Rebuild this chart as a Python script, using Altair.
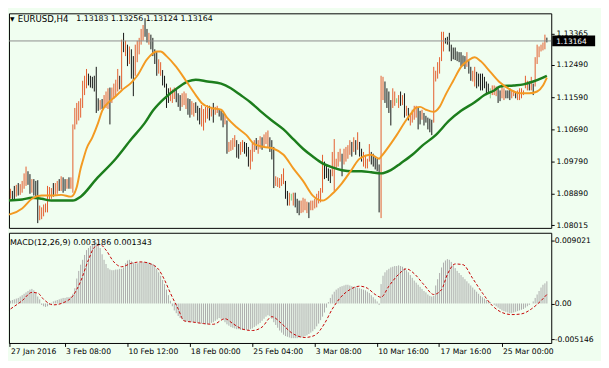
import altair as alt
import pandas as pd

FONT = "DejaVu Sans"
BG = "#F0FEF0"
UP, DOWN, DOJI = "#E35B2B", "#111111", "#7CD07C"

# ---------------- EURUSD H4 bars (index 0 = 27 Jan 2016 00:00) ----------------
bar_high = [
    1.0870, 1.0881, 1.0889, 1.0897, 1.0903, 1.0897, 1.0911, 1.0914, 1.0919, 1.0916,
    1.0925, 1.0946, 1.0965, 1.0952, 1.0944, 1.0930, 1.0930, 1.0925, 1.0927, 1.0856,
    1.0851, 1.0859, 1.0862, 1.0911, 1.0908, 1.0905, 1.0919, 1.0919, 1.0925, 1.0930,
    1.0938, 1.0935, 1.0930, 1.0930, 1.0935, 1.0935, 1.1083, 1.1129, 1.1143, 1.1148,
    1.1156, 1.1205, 1.1219, 1.1238, 1.1225, 1.1219, 1.1216, 1.1219, 1.1244, 1.1156,
    1.1151, 1.1154, 1.1165, 1.1175, 1.1184, 1.1186, 1.1186, 1.1197, 1.1208, 1.1238,
    1.1219, 1.1320, 1.1339, 1.1317, 1.1306, 1.1301, 1.1293, 1.1274, 1.1306, 1.1317,
    1.1325, 1.1350, 1.1361, 1.1380, 1.1350, 1.1339, 1.1334, 1.1325, 1.1293, 1.1285,
    1.1265, 1.1257, 1.1235, 1.1219, 1.1197, 1.1184, 1.1186, 1.1181, 1.1186, 1.1181,
    1.1170, 1.1165, 1.1170, 1.1175, 1.1170, 1.1156, 1.1154, 1.1148, 1.1143, 1.1145,
    1.1135, 1.1129, 1.1137, 1.1126, 1.1132, 1.1137, 1.1135, 1.1132, 1.1143, 1.1132,
    1.1135, 1.1126, 1.1121, 1.1115, 1.1110, 1.1094, 1.1034, 1.1039, 1.1045, 1.1053,
    1.1039, 1.1028, 1.1034, 1.1039, 1.1034, 1.1031, 1.1020, 1.1012, 1.1034, 1.1039,
    1.1045, 1.1039, 1.1050, 1.1047, 1.1055, 1.1061, 1.1066, 1.1047, 1.1039, 1.1020,
    1.0938, 1.0935, 1.0933, 1.0944, 1.0960, 1.0925, 1.0897, 1.0892, 1.0889, 1.0892,
    1.0892, 1.0875, 1.0870, 1.0870, 1.0878, 1.0875, 1.0867, 1.0865, 1.0870, 1.0870,
    1.0875, 1.0889, 1.0897, 1.0905, 1.0998, 1.0979, 1.0971, 1.0960, 1.0957, 1.1006,
    1.1042, 1.0987, 1.1006, 1.1015, 1.1001, 1.1015, 1.1020, 1.1025, 1.1039, 1.1034,
    1.1047, 1.1039, 1.1061, 1.1034, 1.1015, 1.1006, 1.0998, 1.0987, 1.1028, 1.1006,
    1.1001, 1.0993, 1.0987, 1.0971, 1.1219, 1.1216, 1.1203, 1.1184, 1.1175, 1.1151,
    1.1184, 1.1175, 1.1156, 1.1165, 1.1175, 1.1165, 1.1170, 1.1135, 1.1129, 1.1115,
    1.1124, 1.1135, 1.1135, 1.1129, 1.1121, 1.1124, 1.1115, 1.1107, 1.1102, 1.1099,
    1.1096, 1.1244, 1.1233, 1.1257, 1.1271, 1.1342, 1.1342, 1.1325, 1.1328, 1.1339,
    1.1306, 1.1298, 1.1298, 1.1287, 1.1285, 1.1285, 1.1276, 1.1274, 1.1285, 1.1260,
    1.1244, 1.1233, 1.1244, 1.1230, 1.1225, 1.1225, 1.1225, 1.1216, 1.1203, 1.1197,
    1.1184, 1.1192, 1.1192, 1.1189, 1.1184, 1.1178, 1.1189, 1.1184, 1.1178, 1.1178,
    1.1184, 1.1178, 1.1178, 1.1175, 1.1178, 1.1184, 1.1184, 1.1178, 1.1219, 1.1205,
    1.1203, 1.1216, 1.1197, 1.1271, 1.1306, 1.1301, 1.1306, 1.1312, 1.1334, 1.13256,
]
bar_low = [
    1.0837, 1.0848, 1.0862, 1.0870, 1.0875, 1.0870, 1.0873, 1.0881, 1.0884, 1.0886,
    1.0892, 1.0903, 1.0911, 1.0914, 1.0889, 1.0892, 1.0884, 1.0881, 1.0807, 1.0815,
    1.0818, 1.0826, 1.0837, 1.0837, 1.0870, 1.0875, 1.0881, 1.0886, 1.0889, 1.0897,
    1.0897, 1.0892, 1.0897, 1.0903, 1.0903, 1.0903, 1.0892, 1.1069, 1.1083, 1.1094,
    1.1102, 1.1129, 1.1165, 1.1184, 1.1192, 1.1186, 1.1184, 1.1175, 1.1115, 1.1121,
    1.1124, 1.1126, 1.1132, 1.1129, 1.1126, 1.1083, 1.1143, 1.1154, 1.1159, 1.1175,
    1.1181, 1.1181, 1.1285, 1.1274, 1.1246, 1.1252, 1.1211, 1.1162, 1.1219, 1.1257,
    1.1279, 1.1306, 1.1317, 1.1328, 1.1312, 1.1306, 1.1293, 1.1274, 1.1252, 1.1219,
    1.1225, 1.1219, 1.1192, 1.1186, 1.1129, 1.1143, 1.1148, 1.1143, 1.1154, 1.1145,
    1.1132, 1.1121, 1.1132, 1.1137, 1.1126, 1.1110, 1.1102, 1.1110, 1.1105, 1.1115,
    1.1094, 1.1083, 1.1077, 1.1066, 1.1088, 1.1099, 1.1094, 1.1105, 1.1088, 1.1110,
    1.1115, 1.1105, 1.1094, 1.1075, 1.1083, 1.1001, 1.1006, 1.1009, 1.1012, 1.1020,
    1.0990, 1.0987, 1.0998, 1.1006, 1.1001, 1.0993, 1.0965, 1.0957, 1.0979, 1.1006,
    1.1012, 1.1001, 1.1015, 1.1012, 1.1020, 1.1028, 1.1020, 1.1006, 1.0985, 1.0905,
    1.0911, 1.0908, 1.0905, 1.0911, 1.0916, 1.0875, 1.0856, 1.0856, 1.0870, 1.0856,
    1.0851, 1.0835, 1.0829, 1.0835, 1.0837, 1.0843, 1.0835, 1.0821, 1.0843, 1.0843,
    1.0848, 1.0851, 1.0862, 1.0865, 1.0892, 1.0930, 1.0933, 1.0925, 1.0919, 1.0938,
    1.0897, 1.0960, 1.0965, 1.0979, 1.0938, 1.0971, 1.0979, 1.0987, 1.0998, 1.0993,
    1.1006, 1.0998, 1.1012, 1.0993, 1.0979, 1.0965, 1.0960, 1.0960, 1.0979, 1.0971,
    1.0965, 1.0957, 1.0952, 1.0837, 1.0821, 1.1151, 1.1143, 1.1129, 1.1115, 1.1080,
    1.1129, 1.1135, 1.1143, 1.1129, 1.1135, 1.1137, 1.1102, 1.1107, 1.1094, 1.1080,
    1.1088, 1.1096, 1.1102, 1.1069, 1.1083, 1.1096, 1.1080, 1.1088, 1.1069, 1.1061,
    1.1053, 1.1088, 1.1203, 1.1211, 1.1225, 1.1260, 1.1287, 1.1309, 1.1306, 1.1287,
    1.1260, 1.1265, 1.1263, 1.1260, 1.1257, 1.1246, 1.1246, 1.1238, 1.1244, 1.1225,
    1.1205, 1.1203, 1.1189, 1.1184, 1.1189, 1.1178, 1.1178, 1.1184, 1.1165, 1.1170,
    1.1156, 1.1165, 1.1165, 1.1162, 1.1143, 1.1148, 1.1156, 1.1151, 1.1156, 1.1156,
    1.1151, 1.1156, 1.1162, 1.1156, 1.1151, 1.1151, 1.1156, 1.1165, 1.1184, 1.1178,
    1.1178, 1.1178, 1.1165, 1.1189, 1.1252, 1.1271, 1.1287, 1.1290, 1.1293, 1.13124,
]
# U = up bar, D = down bar, G = unchanged
bar_dir = list(
    "UUDUUDDUDU" "UUUDDUDDDU" "UUUUUUDUUD" "UDDUDUUUUU" "UUUUDDDDDD"
    "UDUUUDUUUU" "DUDUDUDDUU" "UUUDDUDDDD" "UUDDDDUUUD" "DDUUUDDUUD"
    "DDUUUUDUDU" "UDDDUDUUUU" "DDUUDDDUUU" "DUUDUUUDDD" "UUUUUDDUGU"
    "DDDUUUUDUU" "UUUUUDDDDU" "UUUUDUUUUD" "UDUDDUUUUD" "DDDDUUDDDD"
    "UUGUDUDUDU" "UUUDDUDDDD" "DUUUUUUDDD" "DDDDDDDDUD" "DUUDDDDDDD"
    "GUUUDDUUDD" "DUUDUUUUUU" "DUDUUUUUUD"
)

# ---------------- moving averages (bar index, price) ----------------
fast_idx = [0, 4, 10, 15, 20, 25, 30, 35, 36, 38, 40, 41, 43, 46, 49, 51, 55, 58, 61, 66,
            69, 74, 79, 81, 84, 89, 94, 99, 102, 107, 112, 115, 120, 125, 129, 134, 139, 144,
            149, 154, 159, 164, 169, 174, 179, 183, 189, 193, 194, 200, 202, 207, 209, 212,
            214, 217, 221, 224, 227, 231, 235, 239, 242, 245, 250, 255, 260, 265, 270, 274,
            277, 279]
fast_val = [1.0829, 1.0832, 1.0848, 1.0875, 1.0884, 1.0884, 1.0886, 1.0881, 1.0884, 1.0908,
            1.0960, 1.0979, 1.1015, 1.1047, 1.1088, 1.1121, 1.1148, 1.1162, 1.1178, 1.1200,
            1.1219, 1.1265, 1.1287, 1.1287, 1.1274, 1.1244, 1.1205, 1.1165, 1.1143, 1.1129,
            1.1124, 1.1102, 1.1075, 1.1053, 1.1028, 1.1020, 1.1015, 1.0998, 1.0960, 1.0925,
            1.0884, 1.0870, 1.0889, 1.0919, 1.0957, 1.0987, 1.0998, 1.0987, 1.0993, 1.1037,
            1.1053, 1.1096, 1.1110, 1.1130, 1.1132, 1.1124, 1.1118, 1.1132, 1.1165, 1.1205,
            1.1244, 1.1263, 1.1271, 1.1260, 1.1230, 1.1200, 1.1181, 1.1170, 1.1170, 1.1175,
            1.1192, 1.1214]
slow_idx = [0, 10, 15, 20, 25, 36, 40, 48, 58, 66, 73, 77, 83, 90, 95, 99, 105, 112, 117,
            122, 127, 132, 138, 144, 149, 154, 159, 164, 169, 174, 179, 184, 189, 194, 199,
            204, 210, 215, 222, 229, 235, 242, 247, 252, 255, 262, 267, 272, 277, 279]
slow_val = [1.0870, 1.0873, 1.0878, 1.0875, 1.0870, 1.0870, 1.0881, 1.0930, 1.0987, 1.1042,
            1.1088, 1.1121, 1.1156, 1.1186, 1.1203, 1.1208, 1.1203, 1.1197, 1.1184, 1.1165,
            1.1145, 1.1121, 1.1094, 1.1069, 1.1042, 1.1015, 1.0993, 1.0974, 1.0963, 1.0955,
            1.0952, 1.0952, 1.0949, 1.0946, 1.0955, 1.0974, 1.0998, 1.1023, 1.1053, 1.1094,
            1.1121, 1.1145, 1.1165, 1.1178, 1.1189, 1.1192, 1.1195, 1.1203, 1.1214, 1.1219]

# ---------------- MACD(12,26,9) ----------------
macd_hist = [
    0.0002, 0.0003, 0.0003, 0.0004, 0.0004, 0.0005, 0.0006, 0.0007, 0.0008, 0.0010,
    0.0012, 0.0014, 0.0016, 0.0018, 0.0020, 0.0021, 0.0019, 0.0015, 0.0010, 0.0006,
    -0.0002, -0.0004, -0.0005, -0.0004, -0.0002, 0.0001, 0.0003, 0.0004, 0.0005, 0.0006,
    0.0007, 0.0008, 0.0008, 0.0009, 0.0009, 0.0010, 0.0014, 0.0022, 0.0036, 0.0047,
    0.0056, 0.0063, 0.0070, 0.0077, 0.0080, 0.0083, 0.0085, 0.0087, 0.0088, 0.0086,
    0.0080, 0.0071, 0.0063, 0.0057, 0.0051, 0.0049, 0.0048, 0.0048, 0.0049, 0.0049,
    0.0050, 0.0050, 0.0052, 0.0058, 0.0062, 0.0063, 0.0061, 0.0059, 0.0058, 0.0058,
    0.0059, 0.0060, 0.0060, 0.0059, 0.0060, 0.0059, 0.0058, 0.0057, 0.0055, 0.0050,
    0.0045, 0.0040, 0.0034, 0.0028, 0.0020, 0.0012, 0.0004, -0.0004, -0.0010, -0.0014,
    -0.0018, -0.0021, -0.0023, -0.0025, -0.0026, -0.0026, -0.0027, -0.0027, -0.0027, -0.0027,
    -0.0028, -0.0028, -0.0029, -0.0029, -0.0030, -0.0030, -0.0029, -0.0028, -0.0027, -0.0025,
    -0.0023, -0.0021, -0.0022, -0.0024, -0.0027, -0.0030, -0.0032, -0.0034, -0.0035, -0.0036,
    -0.0037, -0.0037, -0.0038, -0.0038, -0.0038, -0.0038, -0.0038, -0.0037, -0.0036, -0.0034,
    -0.0032, -0.0030, -0.0028, -0.0025, -0.0022, -0.0019, -0.0017, -0.0018, -0.0022, -0.0027,
    -0.0031, -0.0035, -0.0039, -0.0042, -0.0045, -0.0047, -0.0048, -0.0049, -0.0050, -0.0050,
    -0.0050, -0.0050, -0.0049, -0.0049, -0.0048, -0.0047, -0.0046, -0.0044, -0.0042, -0.0040,
    -0.0037, -0.0033, -0.0029, -0.0024, -0.0019, -0.0013, -0.0006, 0.0002, 0.0008, 0.0013,
    0.0017, 0.0020, 0.0022, 0.0024, 0.0025, 0.0026, 0.0027, 0.0027, 0.0026, 0.0025,
    0.0024, 0.0024, 0.0023, 0.0022, 0.0021, 0.0020, 0.0019, 0.0017, 0.0015, 0.0012,
    0.0009, 0.0006, 0.0003, -0.0002, 0.0028, 0.0040, 0.0045, 0.0048, 0.0050, 0.0052,
    0.0053, 0.0054, 0.0054, 0.0055, 0.0054, 0.0053, 0.0051, 0.0048, 0.0045, 0.0041,
    0.0037, 0.0033, 0.0030, 0.0027, 0.0024, 0.0021, 0.0018, 0.0016, 0.0013, 0.0011,
    0.0010, 0.0011, 0.0026, 0.0035, 0.0044, 0.0052, 0.0059, 0.0062, 0.0064, 0.0063,
    0.0060, 0.0055, 0.0051, 0.0047, 0.0044, 0.0041, 0.0038, 0.0035, 0.0032, 0.0029,
    0.0026, 0.0023, 0.0020, 0.0017, 0.0014, 0.0011, 0.0009, 0.0007, 0.0005, 0.0003,
    0.0002, 0.0000, -0.0002, -0.0004, -0.0006, -0.0008, -0.0010, -0.0011, -0.0012, -0.0013,
    -0.0014, -0.0014, -0.0013, -0.0012, -0.0011, -0.0010, -0.0009, -0.0008, -0.0006, -0.0004,
    -0.0002, 0.0000, 0.0003, 0.0008, 0.0013, 0.0018, 0.0023, 0.0027, 0.0029, 0.0032,
]
signal_idx = [0, 4, 10, 15, 18, 21, 26, 31, 36, 40, 44, 47, 50, 53, 57, 61, 66, 71, 76, 80,
              83, 86, 90, 93, 98, 103, 108, 114, 118, 123, 128, 133, 138, 143, 148, 155, 160,
              165, 169, 173, 178, 183, 187, 191, 194, 198, 203, 207, 211, 216, 221, 225, 228,
              232, 236, 241, 246, 251, 256, 261, 266, 271, 276, 279]
signal_val = [-0.0016, -0.0008, 0.0004, 0.0016, 0.0015, 0.0006, -0.0002, 0.0001, 0.0011,
              0.0032, 0.0063, 0.0081, 0.0085, 0.0077, 0.0060, 0.0053, 0.0058, 0.0060, 0.0057,
              0.0049, 0.0034, 0.0015, -0.0008, -0.0025, -0.0027, -0.0029, -0.0030, -0.0022,
              -0.0029, -0.0037, -0.0039, -0.0034, -0.0019, -0.0029, -0.0042, -0.0049, -0.0046,
              -0.0029, -0.0008, 0.0008, 0.0020, 0.0025, 0.0022, 0.0013, 0.0009, 0.0025, 0.0042,
              0.0050, 0.0043, 0.0027, 0.0013, 0.0020, 0.0042, 0.0057, 0.0056, 0.0036, 0.0015,
              -0.0003, -0.0013, -0.0016, -0.0015, -0.0008, 0.0004, 0.0013]

# ---------------- labels ----------------
price_ticks = [1.13365, 1.12490, 1.11590, 1.10690, 1.09790, 1.08890, 1.08015]
macd_ticks = [0.009021, 0.0, -0.005146]
macd_tick_labels = ["0.009021", "0.00", "-0.005146"]
time_tick_idx = [0, 32, 64, 96, 128, 160, 192, 224, 256]
time_tick_labels = ["27 Jan 2016", "3 Feb 08:00", "10 Feb 12:00", "18 Feb 00:00",
                    "25 Feb 04:00", "3 Mar 08:00", "10 Mar 16:00", "17 Mar 16:00",
                    "25 Mar 00:00"]
last_price = 1.13164
header_symbol = "EURUSD,H4"
header_ohlc = "1.13183 1.13256 1.13124 1.13164"
macd_header = "MACD(12,26,9) 0.003186 0.001343"

# ---------------- build ----------------
n = len(bar_high)
bars = pd.DataFrame({"i": range(n), "high": bar_high, "low": bar_low, "dir": bar_dir[:n]})
hist = pd.DataFrame({"i": range(len(macd_hist)), "h": macd_hist})
fast = pd.DataFrame({"i": fast_idx, "v": fast_val})
slow = pd.DataFrame({"i": slow_idx, "v": slow_val})
sig = pd.DataFrame({"i": signal_idx, "v": signal_val})
lastdf = pd.DataFrame({"p": [last_price]})
one = pd.DataFrame({"a": [0]})

X_LO, X_HI = 3.25, 281.25
xs = alt.Scale(domain=[X_LO, X_HI], nice=False, zero=False)
ys = alt.Scale(domain=[1.07936, 1.13936], nice=False, zero=False)
ms = alt.Scale(domain=[-0.005698, 0.010201], nice=False, zero=False)


def label_expr(values, labels, tol):
    expr = "''"
    for v, lab in reversed(list(zip(values, labels))):
        expr = f"abs(datum.value - ({v})) < {tol} ? '{lab}' : {expr}"
    return expr


price_axis = alt.Axis(orient="right", values=price_ticks, format=".5f", tickSize=3,
                      labelPadding=2, title=None, grid=False, domain=False,
                      labelFlush=False, labelOverlap=False)
tick_pos = [max(v, X_LO + 0.5) for v in time_tick_idx]
x_axis = alt.Axis(orient="bottom", values=tick_pos,
                  labelExpr=label_expr(tick_pos, time_tick_labels, 0.3),
                  tickSize=4, labelPadding=1, labelAlign="left", labelOffset=1,
                  labelBaseline="top", labelFlush=False, labelOverlap=False,
                  title=None, grid=False, domain=False, translate=0)
macd_axis = alt.Axis(orient="right", values=macd_ticks,
                     labelExpr=label_expr(macd_ticks, macd_tick_labels, 0.0005),
                     tickSize=3, labelPadding=0, title=None, grid=False, domain=False,
                     labelFlush=False, labelOverlap=False)

X_MAIN = alt.X("i:Q", scale=xs, axis=None)

bar_layer = alt.Chart(bars).mark_rule(strokeWidth=1, clip=True).encode(
    x=X_MAIN,
    y=alt.Y("high:Q", scale=ys, axis=price_axis),
    y2="low:Q",
    color=alt.Color("dir:N", scale=alt.Scale(domain=["U", "D", "G"], range=[UP, DOWN, DOJI]),
                    legend=None),
)
slow_layer = alt.Chart(slow).mark_line(color="#1C7E1C", strokeWidth=2.5, clip=True,
                                       interpolate="monotone").encode(
    x=X_MAIN, y=alt.Y("v:Q", scale=ys, axis=price_axis))
fast_layer = alt.Chart(fast).mark_line(color="#F39A22", strokeWidth=2, clip=True,
                                       interpolate="monotone").encode(
    x=X_MAIN, y=alt.Y("v:Q", scale=ys, axis=price_axis))
price_line = alt.Chart(lastdf).mark_rule(color="#8C8C8C", strokeWidth=1).encode(
    y=alt.Y("p:Q", scale=ys, axis=price_axis))
price_box = alt.Chart(lastdf).mark_rule(color="black", strokeWidth=11, strokeCap="butt").encode(
    x=alt.value(557), x2=alt.value(601), y=alt.Y("p:Q", scale=ys, axis=price_axis))
price_txt = alt.Chart(lastdf).mark_text(color="white", align="left", baseline="middle",
                                        font=FONT, fontSize=7.6, dy=1).encode(
    x=alt.value(561), y=alt.Y("p:Q", scale=ys, axis=price_axis),
    text=alt.Text("p:Q", format=".5f"))
hdr_tri = alt.Chart(one).mark_text(text="\u25bc", align="left", baseline="middle", font=FONT,
                                   fontSize=6, color="black").encode(
    x=alt.value(1), y=alt.value(6))
hdr_sym = alt.Chart(one).mark_text(text=header_symbol, align="left", baseline="middle",
                                   font=FONT, fontSize=8.8, color="black").encode(
    x=alt.value(9), y=alt.value(6))
hdr_ohlc = alt.Chart(one).mark_text(text=header_ohlc, align="left", baseline="middle",
                                    font=FONT, fontSize=8.0, color="black").encode(
    x=alt.value(69), y=alt.value(6))

main = alt.layer(bar_layer, slow_layer, fast_layer, price_line, price_box, price_txt,
                 hdr_tri, hdr_sym, hdr_ohlc).properties(width=556, height=220)

X_MACD = alt.X("i:Q", scale=xs, axis=x_axis)
hist_layer = alt.Chart(hist).mark_rule(color="#ABABAB", strokeWidth=1, clip=True).encode(
    x=X_MACD,
    y=alt.Y("h:Q", scale=ms, axis=macd_axis),
    y2=alt.datum(0.0),
)
sig_layer = alt.Chart(sig).mark_line(color="#C40000", strokeWidth=1, strokeDash=[3, 2],
                                     clip=True, interpolate="monotone").encode(
    x=X_MACD, y=alt.Y("v:Q", scale=ms, axis=macd_axis))
macd_txt = alt.Chart(one).mark_text(text=macd_header, align="left", baseline="middle",
                                    font=FONT, fontSize=8.2, color="black").encode(
    x=alt.value(1), y=alt.value(11))

macd = alt.layer(hist_layer, sig_layer, macd_txt).properties(width=556, height=113)

chart = (
    alt.vconcat(main, macd, spacing=2)
    .properties(padding=0, background=BG)
    .configure_view(stroke="black", strokeWidth=1, fill=BG)
    .configure_axis(labelFont=FONT, labelFontSize=7.8, labelColor="black",
                    tickColor="black", tickWidth=1)
)

chart.save("out.html", embed_options={"renderer": "svg", "actions": False})
